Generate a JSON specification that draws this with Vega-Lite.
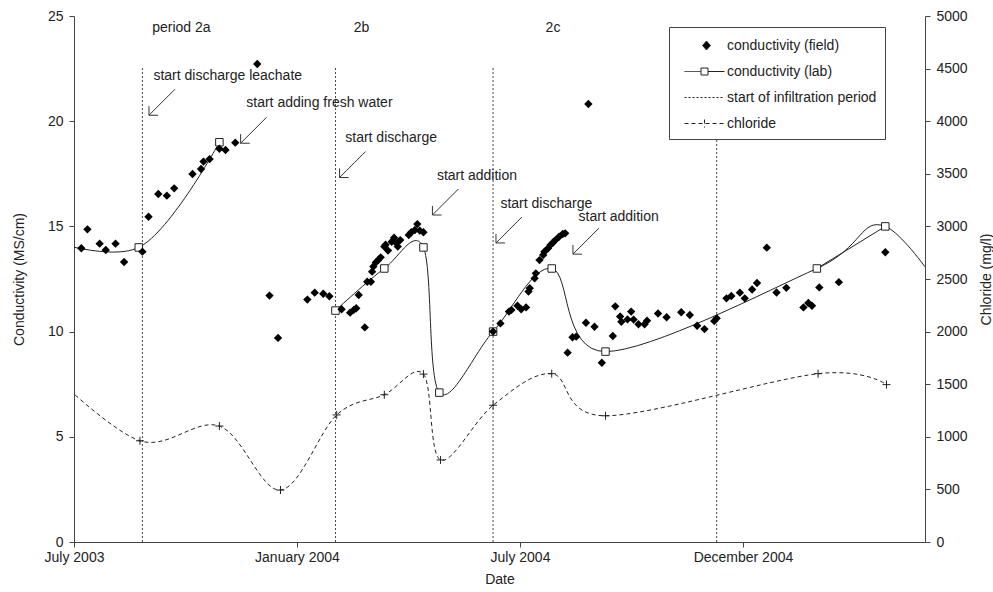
{
  "$schema": "https://vega.github.io/schema/vega-lite/v6.json",
  "width": 851,
  "height": 526,
  "autosize": {"type": "none"},
  "padding": {"left": 74, "top": 16, "right": 68, "bottom": 50},
  "background": "white",
  "config": {
    "font": "Liberation Sans",
    "view": {"stroke": null},
    "axis": {
      "labelFont": "Liberation Sans", "labelFontSize": 14, "labelColor": "#222",
      "titleFont": "Liberation Sans", "titleFontSize": 14, "titleFontWeight": "normal", "titleColor": "#222",
      "domainColor": "#444", "tickColor": "#444", "grid": false, "tickSize": 5
    },
    "legend": {"labelFont": "Liberation Sans"}
  },
  "datasets": {
    "field": [
      {"date": "2003-07-09", "v": 13.96}, {"date": "2003-07-14", "v": 14.86}, {"date": "2003-07-24", "v": 14.18},
      {"date": "2003-07-29", "v": 13.88}, {"date": "2003-08-06", "v": 14.18}, {"date": "2003-08-13", "v": 13.31},
      {"date": "2003-08-28", "v": 13.80}, {"date": "2003-09-02", "v": 15.46}, {"date": "2003-09-10", "v": 16.54},
      {"date": "2003-09-17", "v": 16.46}, {"date": "2003-09-23", "v": 16.81}, {"date": "2003-10-08", "v": 17.49},
      {"date": "2003-10-15", "v": 17.73}, {"date": "2003-10-17", "v": 18.08}, {"date": "2003-10-22", "v": 18.20},
      {"date": "2003-10-30", "v": 18.69}, {"date": "2003-11-04", "v": 18.63}, {"date": "2003-11-12", "v": 18.98},
      {"date": "2003-11-30", "v": 22.72}, {"date": "2003-12-10", "v": 11.71}, {"date": "2003-12-17", "v": 9.70},
      {"date": "2004-01-10", "v": 11.52}, {"date": "2004-01-16", "v": 11.85}, {"date": "2004-01-23", "v": 11.80},
      {"date": "2004-01-28", "v": 11.68}, {"date": "2004-02-07", "v": 11.06}, {"date": "2004-02-14", "v": 10.90},
      {"date": "2004-02-17", "v": 11.03}, {"date": "2004-02-19", "v": 11.11}, {"date": "2004-02-21", "v": 11.74},
      {"date": "2004-02-26", "v": 10.20}, {"date": "2004-02-28", "v": 12.37}, {"date": "2004-03-02", "v": 12.37},
      {"date": "2004-03-03", "v": 12.85}, {"date": "2004-03-04", "v": 13.09}, {"date": "2004-03-06", "v": 13.29},
      {"date": "2004-03-08", "v": 13.40}, {"date": "2004-03-10", "v": 13.53}, {"date": "2004-03-13", "v": 14.04},
      {"date": "2004-03-14", "v": 14.13}, {"date": "2004-03-16", "v": 13.85}, {"date": "2004-03-19", "v": 14.27},
      {"date": "2004-03-21", "v": 14.46}, {"date": "2004-03-23", "v": 14.20}, {"date": "2004-03-24", "v": 14.04},
      {"date": "2004-03-26", "v": 14.35}, {"date": "2004-04-02", "v": 14.59}, {"date": "2004-04-04", "v": 14.72},
      {"date": "2004-04-07", "v": 14.83}, {"date": "2004-04-09", "v": 15.11}, {"date": "2004-04-11", "v": 14.80},
      {"date": "2004-04-14", "v": 14.72}, {"date": "2004-06-10", "v": 10.00}, {"date": "2004-06-16", "v": 10.39},
      {"date": "2004-06-23", "v": 10.95}, {"date": "2004-06-25", "v": 11.03}, {"date": "2004-06-30", "v": 11.23},
      {"date": "2004-07-03", "v": 11.06}, {"date": "2004-07-07", "v": 11.15}, {"date": "2004-07-09", "v": 11.90},
      {"date": "2004-07-10", "v": 12.06}, {"date": "2004-07-14", "v": 12.53}, {"date": "2004-07-15", "v": 12.77},
      {"date": "2004-07-18", "v": 13.40}, {"date": "2004-07-21", "v": 13.64}, {"date": "2004-07-22", "v": 13.80},
      {"date": "2004-07-25", "v": 13.96}, {"date": "2004-07-27", "v": 14.12}, {"date": "2004-07-29", "v": 14.23},
      {"date": "2004-07-31", "v": 14.35}, {"date": "2004-08-03", "v": 14.51}, {"date": "2004-08-06", "v": 14.64},
      {"date": "2004-08-08", "v": 14.67}, {"date": "2004-08-10", "v": 9.00}, {"date": "2004-08-14", "v": 9.73},
      {"date": "2004-08-17", "v": 9.76}, {"date": "2004-08-25", "v": 10.42}, {"date": "2004-08-27", "v": 20.82},
      {"date": "2004-09-01", "v": 10.23}, {"date": "2004-09-07", "v": 8.52}, {"date": "2004-09-16", "v": 9.79},
      {"date": "2004-09-18", "v": 11.20}, {"date": "2004-09-22", "v": 10.72}, {"date": "2004-09-23", "v": 10.47},
      {"date": "2004-09-28", "v": 10.58}, {"date": "2004-10-01", "v": 10.95}, {"date": "2004-10-03", "v": 10.57},
      {"date": "2004-10-07", "v": 10.35}, {"date": "2004-10-12", "v": 10.35}, {"date": "2004-10-14", "v": 10.52},
      {"date": "2004-10-23", "v": 10.86}, {"date": "2004-10-30", "v": 10.68}, {"date": "2004-11-11", "v": 10.92},
      {"date": "2004-11-18", "v": 10.79}, {"date": "2004-11-24", "v": 10.28}, {"date": "2004-11-30", "v": 10.12},
      {"date": "2004-12-08", "v": 10.50}, {"date": "2004-12-10", "v": 10.63}, {"date": "2004-12-18", "v": 11.58},
      {"date": "2004-12-22", "v": 11.69}, {"date": "2004-12-29", "v": 11.85}, {"date": "2005-01-02", "v": 11.58},
      {"date": "2005-01-08", "v": 12.00}, {"date": "2005-01-12", "v": 12.31}, {"date": "2005-01-20", "v": 13.99},
      {"date": "2005-01-28", "v": 11.86}, {"date": "2005-02-05", "v": 12.08}, {"date": "2005-02-19", "v": 11.15},
      {"date": "2005-02-23", "v": 11.36}, {"date": "2005-02-26", "v": 11.23}, {"date": "2005-03-04", "v": 12.10},
      {"date": "2005-03-20", "v": 12.35}, {"date": "2005-04-27", "v": 13.77}
    ],
    "lab": [
      {"date": "2003-05-28", "v": 14.6}, {"date": "2003-08-25", "v": 14.0}, {"date": "2003-10-30", "v": 19.0},
      {"date": "2003-12-20", "v": null},
      {"date": "2004-02-02", "v": 11.0}, {"date": "2004-03-13", "v": 13.0}, {"date": "2004-04-14", "v": 14.0},
      {"date": "2004-04-27", "v": 7.1}, {"date": "2004-06-10", "v": 10.0}, {"date": "2004-07-28", "v": 13.0},
      {"date": "2004-09-10", "v": 9.05}, {"date": "2005-03-02", "v": 13.0}, {"date": "2005-04-27", "v": 15.0},
      {"date": "2005-07-01", "v": 10.3}
    ],
    "labStraight": [
      {"date": "2005-03-02", "v": 13.0}, {"date": "2005-04-27", "v": 15.0}
    ],
    "chloride": [
      {"date": "2003-06-13", "cl": 1620}, {"date": "2003-08-26", "cl": 962}, {"date": "2003-10-30", "cl": 1102},
      {"date": "2003-12-19", "cl": 494}, {"date": "2004-02-03", "cl": 1208}, {"date": "2004-03-13", "cl": 1400},
      {"date": "2004-04-14", "cl": 1596}, {"date": "2004-04-28", "cl": 780}, {"date": "2004-06-10", "cl": 1300},
      {"date": "2004-07-28", "cl": 1600}, {"date": "2004-09-10", "cl": 1200}, {"date": "2005-03-03", "cl": 1600},
      {"date": "2005-04-28", "cl": 1496}
    ],
    "infiltration": [
      {"date": "2003-08-28", "v": 22.53}, {"date": "2004-02-02", "v": 22.53}, {"date": "2004-06-10", "v": 22.53}, {"date": "2004-12-10", "v": 22.53}
    ],
    "notes": [
      {"date": "2003-09-05", "v": 24.43, "label": "period 2a"},
      {"date": "2004-02-17", "v": 24.43, "label": "2b"},
      {"date": "2004-07-23", "v": 24.43, "label": "2c"},
      {"date": "2003-09-06", "v": 22.15, "label": "start discharge leachate"},
      {"date": "2003-11-21", "v": 20.85, "label": "start adding fresh water"},
      {"date": "2004-02-10", "v": 19.20, "label": "start discharge"},
      {"date": "2004-04-25", "v": 17.41, "label": "start addition"},
      {"date": "2004-06-16", "v": 16.06, "label": "start discharge"},
      {"date": "2004-08-19", "v": 15.43, "label": "start addition"}
    ],
    "arrows": [
      {"date": "2003-09-13", "v": 20.90}, {"date": "2003-11-27", "v": 19.57}, {"date": "2004-02-16", "v": 17.94},
      {"date": "2004-05-02", "v": 16.16}, {"date": "2004-06-23", "v": 14.83}, {"date": "2004-08-25", "v": 14.30}
    ],
    "legendItems": [
      {"s": "conductivity (field)"}, {"s": "conductivity (lab)"}, {"s": "start of infiltration period"}, {"s": "chloride"}
    ]
  },
  "encoding": {
    "x": {
      "field": "date", "type": "temporal", "title": "Date",
      "scale": {"type": "utc", "domain": [{"year": 2003, "month": 7, "date": 3, "utc": true}, {"year": 2005, "month": 5, "date": 29, "hours": 12, "utc": true}]},
      "axis": {
        "values": [
          {"year": 2003, "month": 7, "date": 3, "utc": true},
          {"year": 2004, "month": 1, "date": 1, "hours": 12, "utc": true},
          {"year": 2004, "month": 7, "date": 2, "utc": true},
          {"year": 2004, "month": 12, "date": 31, "hours": 12, "utc": true}
        ],
        "format": "%B %Y", "labelPadding": 3, "titlePadding": 8,
        "labelFlush": false, "labelOverlap": false
      }
    }
  },
  "layer": [
    {
      "encoding": {
        "y": {
          "field": "v", "type": "quantitative", "title": "Conductivity (MS/cm)",
          "scale": {"domain": [0, 25], "nice": false, "zero": true},
          "axis": {"values": [0, 5, 10, 15, 20, 25], "labelPadding": 6, "titlePadding": 21}
        }
      },
      "layer": [
        {
          "data": {"name": "infiltration"},
          "mark": {"type": "rule", "color": "#444", "strokeWidth": 1, "strokeDash": [2, 2]},
          "encoding": {
            "y2": {"datum": 0}
          }
        },
        {
          "data": {"name": "lab"},
          "mark": {"type": "line", "interpolate": "cardinal", "stroke": "#222", "strokeWidth": 1, "clip": true},
          "encoding": {}
        },
        {
          "data": {"name": "labStraight"},
          "mark": {"type": "line", "stroke": "#222", "strokeWidth": 1},
          "encoding": {}
        },
        {
          "data": {"name": "lab"},
          "mark": {"type": "point", "shape": "square", "size": 56, "filled": true, "fill": "white", "stroke": "#222", "strokeWidth": 1, "opacity": 1, "clip": true},
          "encoding": {}
        },
        {
          "data": {"name": "field"},
          "mark": {"type": "point", "shape": "diamond", "size": 70, "filled": true, "color": "black", "opacity": 1},
          "encoding": {}
        },
        {
          "data": {"name": "notes"},
          "mark": {"type": "text", "align": "left", "baseline": "middle", "fontSize": 14, "color": "#222"},
          "encoding": {"text": {"field": "label"}}
        },
        {
          "data": {"name": "arrows"},
          "mark": {"type": "point", "shape": "M1,-1L-1,1M-1,0.3L-1,1L-0.3,1", "size": 676, "filled": false, "stroke": "#333", "strokeWidth": 1, "opacity": 1},
          "encoding": {}
        },
        {
          "data": {"name": "legendItems"},
          "mark": {"type": "point", "filled": false, "stroke": "#222", "color": "#222", "strokeWidth": 1, "opacity": 1},
          "encoding": {
            "shape": {
              "field": "s", "type": "nominal",
              "scale": {
                "domain": ["conductivity (field)", "conductivity (lab)", "start of infiltration period", "chloride"],
                "range": [
                  "M0.2,-0.45L0.6,0L0.2,0.45L-0.2,0Z",
                  "M-2,0L-0.35,0M0.35,0L2,0M-0.35,-0.35L0.35,-0.35L0.35,0.35L-0.35,0.35Z",
                  "M-2,0L2,0",
                  "M-2,0L2,0M0,-0.4L0,0.4"
                ]
              },
              "legend": {"title": null, "orient": "none", "legendX": 595, "legendY": 11, "padding": 8, "strokeColor": "#444", "fillColor": "white", "labelFontSize": 14, "labelColor": "#222", "symbolSize": 400, "rowPadding": 8, "labelOffset": 12, "symbolOffset": 17, "symbolStrokeWidth": 1}
            },
            "fill": {
              "field": "s", "type": "nominal",
              "scale": {
                "domain": ["conductivity (field)", "conductivity (lab)", "start of infiltration period", "chloride"],
                "range": ["#000000", "#ffffff", "#ffffff", "#ffffff"]
              },
              "legend": {"title": null, "orient": "none", "legendX": 595, "legendY": 11, "padding": 8, "strokeColor": "#444", "fillColor": "white", "labelFontSize": 14, "labelColor": "#222", "symbolSize": 400, "rowPadding": 8, "labelOffset": 12, "symbolOffset": 17, "symbolStrokeWidth": 1}
            },
            "strokeDash": {
              "field": "s", "type": "nominal",
              "scale": {
                "domain": ["conductivity (field)", "conductivity (lab)", "start of infiltration period", "chloride"],
                "range": [[1, 0], [1, 0], [2, 2], [4, 3]]
              },
              "legend": {"title": null, "orient": "none", "legendX": 595, "legendY": 11, "padding": 8, "strokeColor": "#444", "fillColor": "white", "labelFontSize": 14, "labelColor": "#222", "symbolSize": 400, "rowPadding": 8, "labelOffset": 12, "symbolOffset": 17, "symbolStrokeWidth": 1}
            }
          }
        }
      ]
    },
    {
      "data": {"name": "chloride"},
      "encoding": {
        "y": {
          "field": "cl", "type": "quantitative", "title": "Chloride (mg/l)",
          "scale": {"domain": [0, 5000], "nice": false},
          "axis": {"orient": "right", "values": [0, 500, 1000, 1500, 2000, 2500, 3000, 3500, 4000, 4500, 5000], "format": "d", "labelPadding": 6, "titlePadding": 12, "titleAngle": 270, "titleBaseline": "top"}
        }
      },
      "layer": [
        {
          "mark": {"type": "line", "interpolate": "cardinal", "stroke": "#222", "strokeWidth": 1, "strokeDash": [4, 3], "clip": true}
        },
        {
          "mark": {"type": "point", "shape": "M-1,0L1,0M0,-1L0,1", "size": 64, "filled": false, "stroke": "#222", "strokeWidth": 1, "opacity": 1, "clip": true}
        }
      ]
    }
  ],
  "resolve": {"scale": {"y": "independent"}}
}
